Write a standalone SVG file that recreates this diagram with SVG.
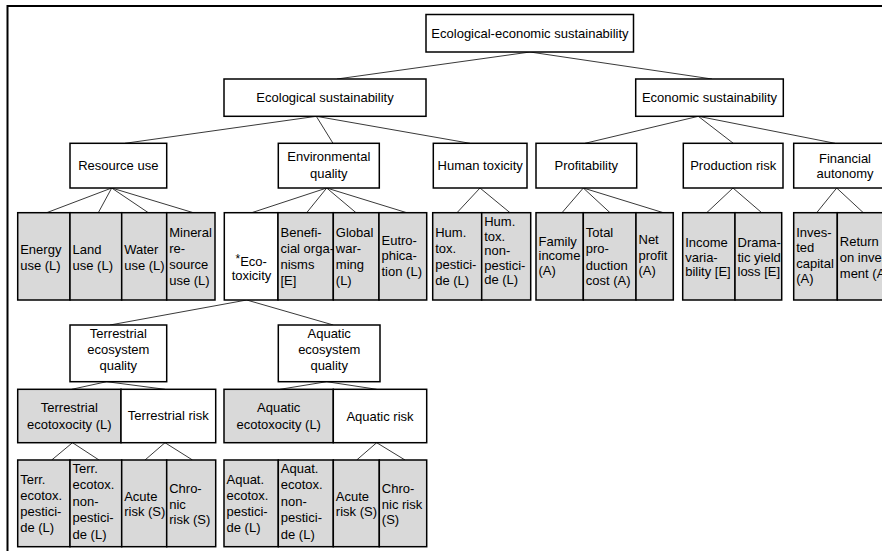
<svg xmlns="http://www.w3.org/2000/svg" width="882" height="551" viewBox="0 0 882 551">
<style>
.b{fill:#fff;stroke:#000;stroke-width:1.5}
.g{fill:#d9d9d9;stroke:#000;stroke-width:1.5}
text{font-family:"Liberation Sans",Arial,sans-serif;font-size:13px;fill:#000}
.m{text-anchor:middle}
#connectors line{stroke:#222;stroke-width:0.9}
</style>
<rect x="0" y="0" width="882" height="551" fill="#fff"/>
<rect id="frame" x="7.5" y="6" width="900" height="560" fill="none" stroke="#000" stroke-width="2"/>

<g id="connectors">
<line x1="530" y1="52" x2="337" y2="79"/>
<line x1="530" y1="52" x2="712" y2="79"/>
<line x1="316.3" y1="116.3" x2="125" y2="143.3"/>
<line x1="316.3" y1="116.3" x2="333" y2="143.3"/>
<line x1="316.3" y1="116.3" x2="470" y2="143.3"/>
<line x1="698.3" y1="116.3" x2="585" y2="143.3"/>
<line x1="698.3" y1="116.3" x2="733.3" y2="143.3"/>
<line x1="698.3" y1="116.3" x2="835" y2="143.3"/>
<line x1="111.7" y1="188" x2="46.7" y2="212.7"/>
<line x1="111.7" y1="188" x2="98.3" y2="212.7"/>
<line x1="111.7" y1="188" x2="148.3" y2="212.7"/>
<line x1="111.7" y1="188" x2="193.3" y2="212.7"/>
<line x1="326.7" y1="188" x2="251.7" y2="212.7"/>
<line x1="326.7" y1="188" x2="306.7" y2="212.7"/>
<line x1="326.7" y1="188" x2="356" y2="212.7"/>
<line x1="326.7" y1="188" x2="406.7" y2="212.7"/>
<line x1="480" y1="188" x2="457" y2="212.7"/>
<line x1="480" y1="188" x2="510" y2="212.7"/>
<line x1="583.3" y1="188" x2="562" y2="212.7"/>
<line x1="583.3" y1="188" x2="610" y2="212.7"/>
<line x1="583.3" y1="188" x2="663.3" y2="212.7"/>
<line x1="733" y1="188" x2="706.7" y2="212.7"/>
<line x1="733" y1="188" x2="761.7" y2="212.7"/>
<line x1="836.7" y1="188" x2="816.7" y2="212.7"/>
<line x1="836.7" y1="188" x2="863.3" y2="212.7"/>
<line x1="246.7" y1="300" x2="110" y2="325"/>
<line x1="246.7" y1="300" x2="333.3" y2="325"/>
<line x1="106.7" y1="381.7" x2="71.7" y2="389.3"/>
<line x1="106.7" y1="381.7" x2="165" y2="389.3"/>
<line x1="326.7" y1="381.7" x2="280" y2="389.3"/>
<line x1="326.7" y1="381.7" x2="376.7" y2="389.3"/>
<line x1="72.5" y1="442.7" x2="51.7" y2="460"/>
<line x1="72.5" y1="442.7" x2="99" y2="460"/>
<line x1="165" y1="442.7" x2="145" y2="460"/>
<line x1="165" y1="442.7" x2="192.5" y2="460"/>
<line x1="376.7" y1="442.7" x2="356.7" y2="460"/>
<line x1="376.7" y1="442.7" x2="405" y2="460"/>
</g>

<g id="n-top"><rect class="b" x="426" y="14.5" width="207.5" height="37.5"/><text class="m" x="530" y="38">Ecological-economic sustainability</text></g>
<g id="n-eco"><rect class="b" x="224" y="79" width="202" height="37.3"/><text class="m" x="325" y="102">Ecological sustainability</text></g>
<g id="n-econ"><rect class="b" x="635.7" y="79" width="147.6" height="37.3"/><text class="m" x="709.5" y="102">Economic sustainability</text></g>

<g id="n-resource"><rect class="b" x="70" y="143.3" width="96.7" height="44.7"/><text class="m" x="118.3" y="170">Resource use</text></g>
<g id="n-env"><rect class="b" x="278.3" y="143.3" width="101" height="44.7"/><text class="m"><tspan x="328.8" y="161">Environmental</tspan><tspan x="328.8" y="177.5">quality</tspan></text></g>
<g id="n-human"><rect class="b" x="433.3" y="143.3" width="93.7" height="44.7"/><text class="m" x="480.2" y="170">Human toxicity</text></g>
<g id="n-profit"><rect class="b" x="536" y="143.3" width="100.7" height="44.7"/><text class="m" x="586.3" y="170">Profitability</text></g>
<g id="n-prodrisk"><rect class="b" x="683.3" y="143.3" width="99.7" height="44.7"/><text class="m" x="733.2" y="170">Production risk</text></g>
<g id="n-finauto"><rect class="b" x="793.7" y="143.3" width="102" height="44.7"/><text class="m"><tspan x="845" y="162.5">Financial</tspan><tspan x="845" y="177.5">autonomy</tspan></text></g>

<g id="n-energy"><rect class="g" x="17.7" y="212.7" width="52.3" height="87.3"/><text><tspan x="20.2" y="254">Energy</tspan><tspan x="20.2" y="270">use (L)</tspan></text></g>
<g id="n-land"><rect class="g" x="70" y="212.7" width="51.7" height="87.3"/><text><tspan x="72.5" y="254">Land</tspan><tspan x="72.5" y="270">use (L)</tspan></text></g>
<g id="n-water"><rect class="g" x="121.7" y="212.7" width="45" height="87.3"/><text><tspan x="124.2" y="254">Water</tspan><tspan x="124.2" y="270">use (L)</tspan></text></g>
<g id="n-mineral"><rect class="g" x="166.7" y="212.7" width="48.3" height="87.3"/><text><tspan x="169.2" y="237">Mineral</tspan><tspan x="169.2" y="253">re-</tspan><tspan x="169.2" y="269">source</tspan><tspan x="169.2" y="285">use (L)</tspan></text></g>
<g id="n-ecotox"><rect class="b" x="224.3" y="212.7" width="53.7" height="87.3"/><text class="m"><tspan x="251.2" y="266"><tspan font-size="12" dy="-3">*</tspan><tspan dy="3">Eco-</tspan></tspan><tspan x="251.5" y="280">toxicity</tspan></text></g>
<g id="n-benef"><rect class="g" x="278" y="212.7" width="55.3" height="87.3"/><text><tspan x="280.5" y="237">Benefi-</tspan><tspan x="280.5" y="253">cial orga-</tspan><tspan x="280.5" y="269">nisms</tspan><tspan x="280.5" y="285">[E]</tspan></text></g>
<g id="n-global"><rect class="g" x="333.3" y="212.7" width="45.7" height="87.3"/><text><tspan x="335.8" y="237">Global</tspan><tspan x="335.8" y="253">war-</tspan><tspan x="335.8" y="269">ming</tspan><tspan x="335.8" y="285">(L)</tspan></text></g>
<g id="n-eutro"><rect class="g" x="379" y="212.7" width="47.7" height="87.3"/><text><tspan x="381.5" y="245">Eutro-</tspan><tspan x="381.5" y="260">phica-</tspan><tspan x="381.5" y="275.5">tion (L)</tspan></text></g>
<g id="n-humpest"><rect class="g" x="432.7" y="212.7" width="49" height="87.3"/><text><tspan x="435.2" y="237">Hum.</tspan><tspan x="435.2" y="253">tox.</tspan><tspan x="435.2" y="269">pestici-</tspan><tspan x="435.2" y="284.5">de  (L)</tspan></text></g>
<g id="n-humnon"><rect class="g" x="481.7" y="212.7" width="49" height="87.3"/><text><tspan x="484.2" y="226">Hum.</tspan><tspan x="484.2" y="240.6">tox.</tspan><tspan x="484.2" y="255.2">non-</tspan><tspan x="484.2" y="269.8">pestici-</tspan><tspan x="484.2" y="284.4">de  (L)</tspan></text></g>
<g id="n-family"><rect class="g" x="536" y="212.7" width="47.3" height="87.3"/><text><tspan x="538.5" y="245.5">Family</tspan><tspan x="538.5" y="260">income</tspan><tspan x="538.5" y="275">(A)</tspan></text></g>
<g id="n-total"><rect class="g" x="583.3" y="212.7" width="52.7" height="87.3"/><text><tspan x="585.8" y="236.5">Total</tspan><tspan x="585.8" y="253">pro-</tspan><tspan x="585.8" y="269.5">duction</tspan><tspan x="585.8" y="285">cost (A)</tspan></text></g>
<g id="n-net"><rect class="g" x="636" y="212.7" width="37.3" height="87.3"/><text><tspan x="638.5" y="244">Net</tspan><tspan x="638.5" y="259.5">profit</tspan><tspan x="638.5" y="275">(A)</tspan></text></g>
<g id="n-incvar"><rect class="g" x="682.7" y="212.7" width="52.3" height="87.3"/><text><tspan x="685.2" y="247">Income</tspan><tspan x="685.2" y="261.5">varia-</tspan><tspan x="685.2" y="276">bility [E]</tspan></text></g>
<g id="n-drama"><rect class="g" x="735" y="212.7" width="46.7" height="87.3"/><text><tspan x="737.5" y="247">Drama-</tspan><tspan x="737.5" y="261.5">tic yield</tspan><tspan x="737.5" y="276">loss [E]</tspan></text></g>
<g id="n-invested"><rect class="g" x="793.7" y="212.7" width="43.6" height="87.3"/><text><tspan x="796.2" y="236.5">Inves-</tspan><tspan x="796.2" y="252">ted</tspan><tspan x="796.2" y="267.5">capital</tspan><tspan x="796.2" y="283">(A)</tspan></text></g>
<g id="n-return"><rect class="g" x="837.3" y="212.7" width="58.7" height="87.3"/><text><tspan x="839.8" y="246">Return</tspan><tspan x="839.8" y="262">on invest-</tspan><tspan x="839.8" y="278">ment (A)</tspan></text></g>

<g id="n-terreco"><rect class="b" x="70" y="325" width="96.7" height="56.7"/><text class="m"><tspan x="118.3" y="338">Terrestrial</tspan><tspan x="118.3" y="354">ecosystem</tspan><tspan x="118.3" y="369.5">quality</tspan></text></g>
<g id="n-aqeco"><rect class="b" x="278.3" y="325" width="101.7" height="56.7"/><text class="m"><tspan x="329.2" y="338">Aquatic</tspan><tspan x="329.2" y="354">ecosystem</tspan><tspan x="329.2" y="369.5">quality</tspan></text></g>

<g id="n-terrecotox"><rect class="g" x="17.7" y="389.3" width="103.3" height="53.4"/><text class="m"><tspan x="69.3" y="412">Terrestrial</tspan><tspan x="69.3" y="429">ecotoxocity (L)</tspan></text></g>
<g id="n-terrrisk"><rect class="b" x="121" y="389.3" width="94.7" height="53.4"/><text class="m" x="168.3" y="420">Terrestrial risk</text></g>
<g id="n-aqecotox"><rect class="g" x="224" y="389.3" width="109.3" height="53.4"/><text class="m"><tspan x="278.7" y="412">Aquatic</tspan><tspan x="278.7" y="429">ecotoxocity (L)</tspan></text></g>
<g id="n-aqrisk"><rect class="b" x="333.3" y="389.3" width="93.4" height="53.4"/><text class="m" x="380" y="420.5">Aquatic risk</text></g>

<g id="n-terrpest"><rect class="g" x="17.7" y="460" width="52.3" height="86.7"/><text><tspan x="20.2" y="484">Terr.</tspan><tspan x="20.2" y="500">ecotox.</tspan><tspan x="20.2" y="516">pestici-</tspan><tspan x="20.2" y="532">de  (L)</tspan></text></g>
<g id="n-terrnon"><rect class="g" x="70" y="460" width="51.7" height="86.7"/><text><tspan x="72.5" y="472.5">Terr.</tspan><tspan x="72.5" y="489">ecotox.</tspan><tspan x="72.5" y="505.5">non-</tspan><tspan x="72.5" y="522">pestici-</tspan><tspan x="72.5" y="538.5">de  (L)</tspan></text></g>
<g id="n-terracute"><rect class="g" x="121.7" y="460" width="45" height="86.7"/><text><tspan x="124.2" y="500.5">Acute</tspan><tspan x="124.2" y="516">risk (S)</tspan></text></g>
<g id="n-terrchronic"><rect class="g" x="166.7" y="460" width="49" height="86.7"/><text><tspan x="169.2" y="493">Chro-</tspan><tspan x="169.2" y="508.5">nic</tspan><tspan x="169.2" y="524">risk (S)</tspan></text></g>
<g id="n-aqpest"><rect class="g" x="224" y="460" width="54.3" height="86.7"/><text><tspan x="226.5" y="484">Aquat.</tspan><tspan x="226.5" y="500">ecotox.</tspan><tspan x="226.5" y="516">pestici-</tspan><tspan x="226.5" y="532">de  (L)</tspan></text></g>
<g id="n-aqnon"><rect class="g" x="278.3" y="460" width="55" height="86.7"/><text><tspan x="280.8" y="472.5">Aquat.</tspan><tspan x="280.8" y="489">ecotox.</tspan><tspan x="280.8" y="505.5">non-</tspan><tspan x="280.8" y="522">pestici-</tspan><tspan x="280.8" y="538.5">de  (L)</tspan></text></g>
<g id="n-aqacute"><rect class="g" x="333.3" y="460" width="46" height="86.7"/><text><tspan x="335.8" y="500.5">Acute</tspan><tspan x="335.8" y="516">risk (S)</tspan></text></g>
<g id="n-aqchronic"><rect class="g" x="379.3" y="460" width="47.4" height="86.7"/><text><tspan x="381.8" y="493">Chro-</tspan><tspan x="381.8" y="508.5">nic risk</tspan><tspan x="381.8" y="524">(S)</tspan></text></g>
</svg>
